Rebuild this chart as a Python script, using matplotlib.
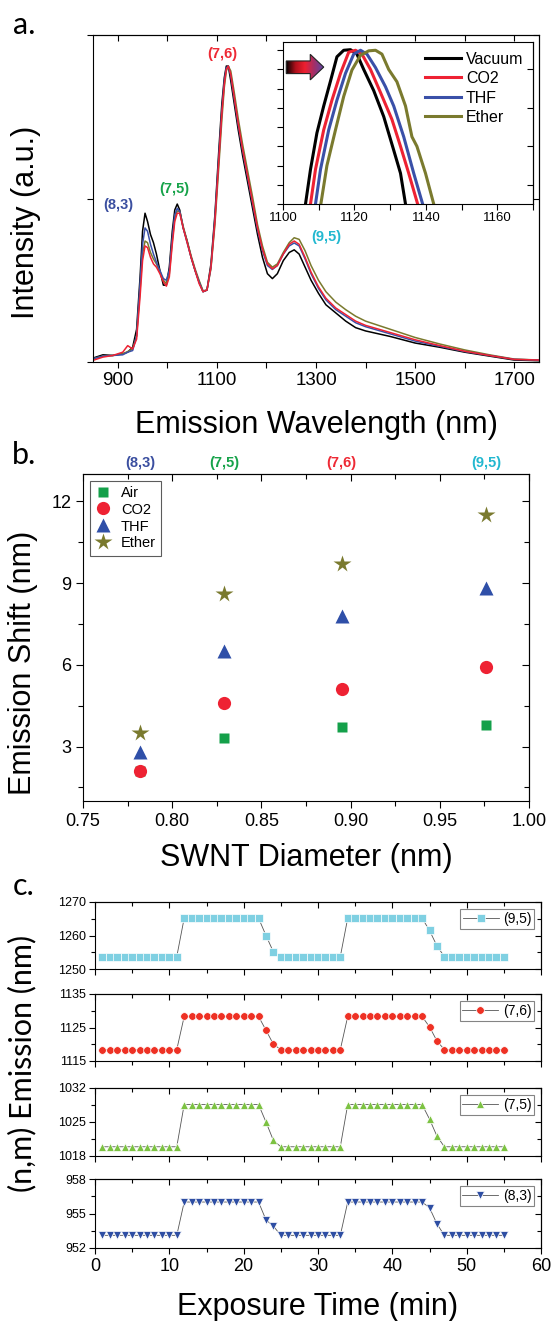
import matplotlib
matplotlib.use('Agg')
import matplotlib.pyplot as plt
from matplotlib.patches import Polygon
from matplotlib.colors import LinearSegmentedColormap
import matplotlib.transforms as mtransforms
import numpy as np

plt.rcParams['font.family'] = ['Liberation Sans', 'DejaVu Sans']

W, H = 551, 1321

# ---------------- panel a : spectra ----------------
wl = [850, 870, 890, 910, 920, 930, 938, 945, 950, 955, 960, 966, 972, 978, 985, 992, 998,
      1004, 1010, 1015, 1020, 1025, 1032, 1040, 1048, 1056, 1064, 1072, 1080, 1088, 1096,
      1104, 1110, 1115, 1119, 1123, 1128, 1135, 1143, 1152, 1162, 1172, 1182, 1192, 1202,
      1212, 1222, 1234, 1246, 1256, 1266, 1278, 1290, 1305, 1320, 1340, 1360, 1380, 1400,
      1450, 1500, 1550, 1600, 1650, 1700, 1750]

vacuum = [0.012, 0.022, 0.020, 0.025, 0.030, 0.045, 0.10, 0.26, 0.40, 0.455, 0.43, 0.39,
          0.365, 0.33, 0.28, 0.235, 0.235, 0.29, 0.40, 0.465, 0.483, 0.465, 0.41, 0.37,
          0.32, 0.28, 0.245, 0.215, 0.22, 0.30, 0.45, 0.65, 0.79, 0.87, 0.905, 0.905, 0.86,
          0.79, 0.71, 0.63, 0.55, 0.47, 0.39, 0.32, 0.27, 0.255, 0.27, 0.31, 0.335, 0.343,
          0.33, 0.29, 0.25, 0.21, 0.175, 0.15, 0.125, 0.105, 0.095, 0.078, 0.058, 0.045,
          0.03, 0.018, 0.006, 0.004]

co2 = [0.005, 0.015, 0.020, 0.030, 0.05, 0.04, 0.07, 0.20, 0.31, 0.355, 0.35, 0.32, 0.30,
       0.29, 0.27, 0.245, 0.232, 0.26, 0.36, 0.43, 0.455, 0.455, 0.41, 0.365, 0.32, 0.28,
       0.24, 0.215, 0.22, 0.29, 0.43, 0.62, 0.76, 0.85, 0.895, 0.905, 0.88, 0.81, 0.73,
       0.65, 0.57, 0.49, 0.41, 0.345, 0.30, 0.285, 0.295, 0.33, 0.36, 0.37, 0.36, 0.32,
       0.275, 0.23, 0.195, 0.165, 0.145, 0.125, 0.112, 0.09, 0.068, 0.05, 0.033, 0.02,
       0.008, 0.006]

thf = [0.010, 0.018, 0.020, 0.022, 0.030, 0.035, 0.08, 0.24, 0.36, 0.41, 0.40, 0.36, 0.33,
       0.305, 0.28, 0.255, 0.25, 0.28, 0.38, 0.45, 0.47, 0.46, 0.41, 0.365, 0.32, 0.28,
       0.245, 0.215, 0.22, 0.29, 0.44, 0.63, 0.77, 0.86, 0.90, 0.905, 0.875, 0.805, 0.725,
       0.645, 0.565, 0.485, 0.405, 0.34, 0.295, 0.283, 0.295, 0.33, 0.355, 0.364, 0.355,
       0.315, 0.27, 0.225, 0.19, 0.16, 0.14, 0.12, 0.108, 0.086, 0.064, 0.048, 0.032,
       0.02, 0.008, 0.006]

ether = [0.010, 0.018, 0.020, 0.025, 0.032, 0.04, 0.08, 0.22, 0.33, 0.37, 0.365, 0.335,
         0.315, 0.30, 0.275, 0.25, 0.24, 0.27, 0.37, 0.44, 0.462, 0.46, 0.415, 0.37, 0.325,
         0.285, 0.25, 0.218, 0.22, 0.285, 0.42, 0.60, 0.74, 0.84, 0.89, 0.905, 0.89, 0.825,
         0.745, 0.665, 0.585, 0.505, 0.42, 0.355, 0.305, 0.29, 0.30, 0.335, 0.365, 0.38,
         0.375, 0.34, 0.295, 0.25, 0.215, 0.183, 0.16, 0.14, 0.125, 0.10, 0.075, 0.055,
         0.037, 0.022, 0.009, 0.006]

# inset : zoom on the (7,6) peak, normalised
ins_vac_x = [1106.3, 1107.7, 1109.5, 1111.4, 1113.3, 1115.1, 1117.0, 1118.9, 1120.7, 1122.6,
             1125.4, 1128.2, 1131.0, 1132.9, 1134.3]
ins_vac_y = [0.92, 0.938, 0.957, 0.971, 0.984, 0.9966, 1.0, 1.0003, 0.998, 0.990, 0.979,
             0.9655, 0.948, 0.936, 0.92]
ins_co2_x = [1107.7, 1109.1, 1111.4, 1113.7, 1116.1, 1118.4, 1120.3, 1122.1, 1124.5, 1127.3,
             1130.5, 1132.9, 1135.2, 1137.7]
ins_co2_y = [0.92, 0.938, 0.9586, 0.974, 0.988, 0.999, 1.0, 0.998, 0.990, 0.978, 0.964,
             0.950, 0.936, 0.92]
ins_thf_x = [1109.1, 1110.5, 1112.8, 1115.1, 1117.5, 1119.8, 1121.7, 1123.5, 1125.9, 1128.7,
             1131.0, 1133.8, 1136.6, 1139.1]
ins_thf_y = [0.92, 0.938, 0.9586, 0.974, 0.988, 0.998, 1.0, 0.998, 0.991, 0.981, 0.971,
             0.955, 0.936, 0.92]
ins_eth_x = [1110.6, 1112.3, 1114.7, 1117.0, 1119.3, 1121.7, 1124.0, 1125.9, 1127.7, 1129.6,
             1131.9, 1134.3, 1136.1, 1137.5, 1139.9, 1142.2]
ins_eth_y = [0.92, 0.940, 0.9586, 0.976, 0.9897, 0.9974, 0.9997, 1.0, 0.998, 0.990, 0.9836,
             0.971, 0.955, 0.950, 0.936, 0.92]

# ---------------- panel b : shift vs diameter ----------------
diam = [0.782, 0.829, 0.895, 0.976]
chir = ['(8,3)', '(7,5)', '(7,6)', '(9,5)']
chir_col = ['#3b4fa0', '#17a34a', '#ee2a35', '#22b8d0']
shift_air = [2.1, 3.3, 3.7, 3.8]
shift_co2 = [2.1, 4.6, 5.1, 5.9]
shift_thf = [2.8, 6.5, 7.8, 8.8]
shift_eth = [3.5, 8.6, 9.7, 11.5]

# ---------------- panel c : emission vs time ----------------
time_min = list(range(1, 56))
em_95 = ([1253.7] * 11 + [1265.2] * 11 + [1260.0, 1255.1] + [1253.7] * 9 +
         [1265.2] * 11 + [1261.5, 1256.9] + [1253.7] * 9)
em_76 = ([1118.4] * 11 + [1128.3] * 11 + [1124.2, 1120.0] + [1118.4] * 9 +
         [1128.3] * 11 + [1125.2, 1121.0] + [1118.4] * 9)
em_75 = ([1019.9] * 11 + [1028.6] * 11 + [1025.0, 1021.2] + [1019.9] * 9 +
         [1028.6] * 11 + [1025.6, 1022.1] + [1019.9] * 9)
em_83 = ([953.1] * 11 + [956.0] * 11 + [954.45, 953.9] + [953.1] * 9 +
         [956.0] * 11 + [955.5, 954.1] + [953.1] * 9)


def rect(l, t, r, b):
    return [l / W, 1 - b / H, (r - l) / W, (b - t) / H]


def mirror(ax, lmaj, lmin):
    top = ax.secondary_xaxis('top')
    top.set_xticks(ax.get_xticks())
    top.set_xticks(ax.get_xticks(minor=True), minor=True)
    top.tick_params(which='both', direction='in', labeltop=False, width=0.8)
    top.tick_params(which='major', length=lmaj)
    top.tick_params(which='minor', length=lmin)
    right = ax.secondary_yaxis('right')
    right.set_yticks(ax.get_yticks())
    right.set_yticks(ax.get_yticks(minor=True), minor=True)
    right.tick_params(which='both', direction='in', labelright=False, width=0.8)
    right.tick_params(which='major', length=lmaj)
    right.tick_params(which='minor', length=lmin)
    for s in list(top.spines.values()) + list(right.spines.values()):
        s.set_linewidth(0.8)


fig = plt.figure(figsize=(W / 100, H / 100), dpi=100)

# ===== a =====
ax = fig.add_axes(rect(93, 35, 539, 362))
ax.plot(wl, vacuum, color='black', lw=1.1)
ax.plot(wl, ether, color='#7a7a2e', lw=1.1)
ax.plot(wl, thf, color='#3a50a8', lw=1.1)
ax.plot(wl, co2, color='#ee2233', lw=1.1)
ax.set_xlim(850, 1750)
ax.set_ylim(0, 1)
ax.set_xticks([900, 1100, 1300, 1500, 1700])
ax.set_xticks([1000, 1200, 1400, 1600], minor=True)
ax.set_yticks([0, 0.5, 1.0])
ax.set_yticklabels([])
ax.tick_params(which='both', direction='out', length=4, width=0.8, labelsize=13.5)
for s in ax.spines.values():
    s.set_linewidth(0.8)
mirror(ax, 4, 4)

peak_lbl = [('(8,3)', 902, 0.48, '#3b4fa0'), ('(7,5)', 1014, 0.529, '#17a34a'),
            ('(7,6)', 1110, 0.942, '#ee2a35'), ('(9,5)', 1320, 0.383, '#22b8d0')]
for txt, x, y, c in peak_lbl:
    ax.text(x, y, txt, color=c, fontsize=10.5, fontweight='bold', ha='center', va='center')

ins = fig.add_axes(rect(283, 42, 533, 204))
ins.plot(ins_vac_x, ins_vac_y, color='black', lw=2.2, label='Vacuum')
ins.plot(ins_co2_x, ins_co2_y, color='#ee2233', lw=2.2, label='CO2')
ins.plot(ins_thf_x, ins_thf_y, color='#3a50a8', lw=2.2, label='THF')
ins.plot(ins_eth_x, ins_eth_y, color='#7a7a2e', lw=2.2, label='Ether')
ins.set_xticks([1100, 1120, 1140, 1160])
ins.set_xticks([1110, 1130, 1150, 1170], minor=True)
ins.set_yticks(np.arange(0.92, 1.001, 0.01))
ins.set_yticklabels([])
ins.tick_params(which='both', direction='out', length=4, width=0.8, labelsize=9.5, pad=2)
for s in ins.spines.values():
    s.set_linewidth(0.8)
rt = ins.secondary_yaxis('right')
rt.set_yticks([0.93, 0.95, 0.97, 0.99])
rt.tick_params(direction='in', length=4, width=0.8, labelright=False)
ins.legend(loc='upper right', frameon=False, fontsize=11.5, handlelength=2.3,
           handletextpad=0.3, labelspacing=0.28, borderaxespad=0.2)

# gradient arrow
arrow_pts = [(0.013, 0.805), (0.109, 0.805), (0.109, 0.766), (0.163, 0.845),
             (0.109, 0.924), (0.109, 0.883), (0.013, 0.883)]
poly = Polygon(arrow_pts, closed=True, transform=ins.transAxes, facecolor='none',
               edgecolor='#222222', lw=0.8, zorder=6)
cmap = LinearSegmentedColormap.from_list('arr', ['#000000', '#b0101c', '#ee2030', '#a0306a', '#5a48a8'])
grad = np.linspace(0, 1, 200).reshape(1, -1)
im = ins.imshow(grad, extent=[0.013, 0.163, 0.766, 0.924], transform=ins.transAxes,
                cmap=cmap, aspect='auto', zorder=5)
im.set_clip_path(poly)
ins.add_patch(poly)
ins.set_xlim(1100, 1170)
ins.set_ylim(0.92, 1.0043)

fig.text(24 / W, 1 - 25 / H, 'a.', fontsize=22, family=['Lato', 'DejaVu Sans'], ha='center', va='center')
fig.text(316 / W, 1 - 433 / H, 'Emission Wavelength (nm)', fontsize=22, ha='center', va='baseline')
fig.text(26 / W, 1 - 222 / H, 'Intensity (a.u.)', fontsize=22, rotation=90, ha='center', va='center')

# ===== b =====
bx = fig.add_axes(rect(83, 474, 529, 801))
bx.plot(diam, shift_air, 's', color='#14a04a', ms=7.5, mec='none', label='Air')
bx.plot(diam, shift_co2, 'o', color='#ee2233', ms=9.5, mec='none', label='CO2')
bx.plot(diam, shift_thf, '^', color='#2f4fa8', ms=10, mec='none', label='THF')
bx.plot(diam, shift_eth, '*', color='#7a7a2e', ms=13, mec='none', label='Ether')
bx.set_xlim(0.75, 1.0)
bx.set_ylim(1, 13)
bx.set_xticks([0.75, 0.80, 0.85, 0.90, 0.95, 1.00])
bx.set_xticklabels(['0.75', '0.80', '0.85', '0.90', '0.95', '1.00'])
bx.set_xticks([0.775, 0.825, 0.875, 0.925, 0.975], minor=True)
bx.set_yticks([3, 6, 9, 12])
bx.set_yticks([1.5, 4.5, 7.5, 10.5], minor=True)
bx.tick_params(which='major', direction='out', length=5, width=0.8, labelsize=13)
bx.tick_params(which='minor', direction='out', length=3.5, width=0.8)
for s in bx.spines.values():
    s.set_linewidth(0.8)
mirror(bx, 5, 3.5)
leg = bx.legend(loc='upper left', fontsize=10.5, frameon=True, fancybox=False,
                edgecolor='#333333', handletextpad=0.6, labelspacing=0.2,
                borderpad=0.35, borderaxespad=0.45, handlelength=1.2)
leg.get_frame().set_linewidth(0.8)
tb = mtransforms.blended_transform_factory(bx.transData, bx.transAxes)
for x, t, c in zip(diam, chir, chir_col):
    bx.text(x, 1.012, t, transform=tb, color=c, fontsize=10.5, fontweight='bold',
            ha='center', va='bottom')

fig.text(24 / W, 1 - 455 / H, 'b.', fontsize=22, family=['Lato', 'DejaVu Sans'], ha='center', va='center')
fig.text(306 / W, 1 - 866 / H, 'SWNT Diameter (nm)', fontsize=22, ha='center', va='baseline')
fig.text(23 / W, 1 - 663 / H, 'Emission Shift (nm)', fontsize=22, rotation=90, ha='center', va='center')

# ===== c =====
rows = [(902, 969), (994, 1061), (1088, 1156), (1179, 1248)]
series = [(em_95, 's', '#7fd0e2', 5.3, '(9,5)', (1250, 1270), [1250, 1260, 1270], [1255, 1265]),
          (em_76, 'o', '#ee3124', 5.5, '(7,6)', (1115, 1135), [1115, 1125, 1135], [1120, 1130]),
          (em_75, '^', '#7cc242', 6.2, '(7,5)', (1018, 1032), [1018, 1025, 1032], [1021.5, 1028.5]),
          (em_83, 'v', '#2e4ea3', 6.2, '(8,3)', (952, 958), [952, 955, 958], [953.5, 956.5])]
for i, ((top_px, bot_px), (vals, mk, col, ms, lab, ylim, yt, ym)) in enumerate(zip(rows, series)):
    cx = fig.add_axes(rect(95, top_px, 541, bot_px))
    cx.plot(time_min, vals, color='#555555', lw=0.6, marker=mk, ms=ms, mfc=col,
            mec='white', mew=0.5, label=lab)
    cx.set_xlim(0, 60)
    cx.set_ylim(*ylim)
    cx.set_xticks([0, 10, 20, 30, 40, 50, 60])
    cx.set_xticks([5, 15, 25, 35, 45, 55], minor=True)
    cx.set_yticks(yt)
    cx.set_yticks(ym, minor=True)
    cx.tick_params(which='major', direction='out', length=4.5, width=0.8, labelsize=9, pad=2)
    cx.tick_params(which='minor', direction='out', length=3, width=0.8)
    cx.tick_params(axis='x', labelsize=13, pad=3)
    if i < 3:
        cx.set_xticklabels([])
    for s in cx.spines.values():
        s.set_linewidth(0.8)
    mirror(cx, 4.5, 3)
    lg = cx.legend(loc='upper right', fontsize=10, fancybox=False, edgecolor='#666666',
                   handlelength=2.6, handletextpad=0.3, borderpad=0.2, borderaxespad=0.5)
    lg.get_frame().set_linewidth(0.8)

fig.text(24 / W, 1 - 886 / H, 'c.', fontsize=22, family=['Lato', 'DejaVu Sans'], ha='center', va='center')
fig.text(318 / W, 1 - 1315 / H, 'Exposure Time (min)', fontsize=22, ha='center', va='baseline')
fig.text(22 / W, 1 - 1063 / H, '(n,m) Emission (nm)', fontsize=22, rotation=90,
         family=['Lato', 'DejaVu Sans'], ha='center', va='center')

fig.savefig('out.png', dpi=100)
